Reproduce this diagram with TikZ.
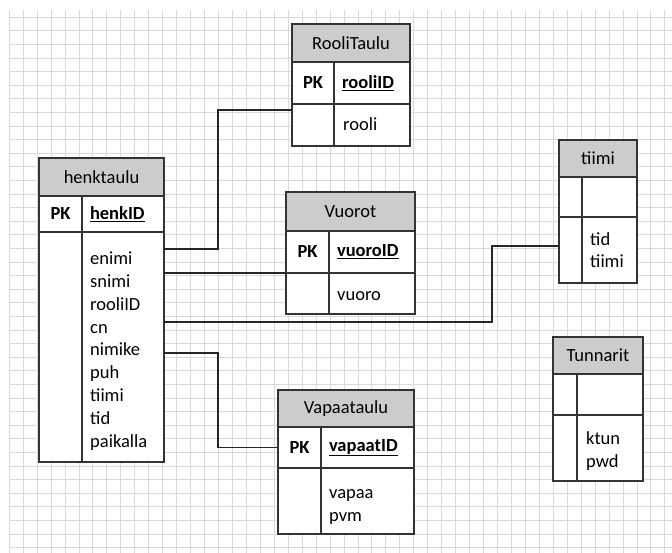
\documentclass[tikz,border=0pt]{standalone}
\usepackage{fontspec}
\setmainfont{Carlito}
\usepackage{tikz}
\usetikzlibrary{positioning}

\tikzset{
  cell/.style={draw=black!80, line width=1.1pt, fill=white, inner sep=0pt, outer sep=0pt, anchor=north west},
  head/.style={cell, fill=black!20},
  txt/.style={cell, align=left, inner xsep=8pt},
  fields/.style={align=left, inner sep=0pt, anchor=base west}, % base = last line
  link/.style={draw=black!85, line width=1.1pt},
  gridline/.style={draw=black!15, line width=0.5pt}
}

\begin{document}
\begin{tikzpicture}[x=1pt, y=-1pt, font=\fontsize{18.5}{22.8}\selectfont]

\useasboundingbox (0,0) rectangle (672,553);

% background grid
\foreach \i in {0,...,47}
  \draw[gridline] ({9+13.95*\i},10) -- ({9+13.95*\i},553);
\foreach \j in {0,...,39}
  \draw[gridline] (9,{17+13.6*\j}) -- (672,{17+13.6*\j});

% henktaulu
\node[head, minimum width=125pt, minimum height=38pt] (henk-head) at (39,158) {henktaulu};
\node[cell, minimum width=43pt, minimum height=36pt] (henk-pk) at (henk-head.south west) {\textbf{PK}};
\node[txt, text width=66pt, minimum height=36pt] (henk-id) at (henk-pk.north east) {\underline{\textbf{henkID}}};
\node[cell, minimum width=43pt, minimum height=230pt] (henk-kcol) at (henk-pk.south west) {};
\node[cell, minimum width=82pt, minimum height=230pt] (henk-body) at (henk-kcol.north east) {};
\node[fields] (henk-fields) at ([xshift=8pt, yshift=-215pt]henk-body.north west)
  {enimi\\snimi\\rooliID\\cn\\nimike\\puh\\tiimi\\tid\\paikalla};

% RooliTaulu
\node[head, minimum width=118pt, minimum height=38pt] (rooli-head) at (292,24) {RooliTaulu};
\node[cell, minimum width=42pt, minimum height=42pt] (rooli-pk) at (rooli-head.south west) {\textbf{PK}};
\node[txt, text width=60pt, minimum height=42pt] (rooli-id) at (rooli-pk.north east) {\underline{\textbf{rooliID}}};
\node[cell, minimum width=42pt, minimum height=42pt] (rooli-kcol) at (rooli-pk.south west) {};
\node[cell, minimum width=76pt, minimum height=42pt] (rooli-body) at (rooli-kcol.north east) {};
\node[fields] (rooli-fields) at ([xshift=9pt, yshift=-27pt]rooli-body.north west) {rooli};

% Vuorot
\node[head, minimum width=129pt, minimum height=39pt] (vuoro-head) at (286,192) {Vuorot};
\node[cell, minimum width=43pt, minimum height=42pt] (vuoro-pk) at (vuoro-head.south west) {\textbf{PK}};
\node[txt, text width=70pt, minimum height=42pt] (vuoro-id) at (vuoro-pk.north east) {\underline{\textbf{vuoroID}}};
\node[cell, minimum width=43pt, minimum height=41pt] (vuoro-kcol) at (vuoro-pk.south west) {};
\node[cell, minimum width=86pt, minimum height=41pt] (vuoro-body) at (vuoro-kcol.north east) {};
\node[fields] (vuoro-fields) at ([xshift=8pt, yshift=-28pt]vuoro-body.north west) {vuoro};

% Vapaataulu
\node[head, minimum width=136pt, minimum height=37pt] (vapaa-head) at (278,390) {Vapaataulu};
\node[cell, minimum width=43pt, minimum height=41pt] (vapaa-pk) at (vapaa-head.south west) {\textbf{PK}};
\node[txt, text width=77pt, minimum height=41pt] (vapaa-id) at (vapaa-pk.north east) {\underline{\textbf{vapaatID}}};
\node[cell, minimum width=43pt, minimum height=66pt] (vapaa-kcol) at (vapaa-pk.south west) {};
\node[cell, minimum width=93pt, minimum height=66pt] (vapaa-body) at (vapaa-kcol.north east) {};
\node[fields] (vapaa-fields) at ([xshift=8pt, yshift=-53pt]vapaa-body.north west) {vapaa\\pvm};

% tiimi
\node[head, minimum width=78pt, minimum height=37pt] (tiimi-head) at (559,140) {tiimi};
\node[cell, minimum width=23pt, minimum height=40pt] (tiimi-pk) at (tiimi-head.south west) {};
\node[cell, minimum width=55pt, minimum height=40pt] (tiimi-id) at (tiimi-pk.north east) {};
\node[cell, minimum width=23pt, minimum height=66pt] (tiimi-kcol) at (tiimi-pk.south west) {};
\node[cell, minimum width=55pt, minimum height=66pt] (tiimi-body) at (tiimi-kcol.north east) {};
\node[fields] (tiimi-fields) at ([xshift=8pt, yshift=-51pt]tiimi-body.north west) {tid\\tiimi};

% Tunnarit
\node[head, minimum width=90pt, minimum height=37pt] (tunn-head) at (553,337) {Tunnarit};
\node[cell, minimum width=24pt, minimum height=41pt] (tunn-pk) at (tunn-head.south west) {};
\node[cell, minimum width=66pt, minimum height=41pt] (tunn-id) at (tunn-pk.north east) {};
\node[cell, minimum width=24pt, minimum height=66pt] (tunn-kcol) at (tunn-pk.south west) {};
\node[cell, minimum width=66pt, minimum height=66pt] (tunn-body) at (tunn-kcol.north east) {};
\node[fields] (tunn-fields) at ([xshift=9pt, yshift=-52pt]tunn-body.north west) {ktun\\pwd};

% connector ends
\coordinate (h-rooli) at ([yshift=-17pt]henk-body.north east);
\coordinate (h-vuoro) at ([yshift=-41pt]henk-body.north east);
\coordinate (h-tiimi) at ([yshift=-90pt]henk-body.north east);
\coordinate (h-vapaa) at ([yshift=-121pt]henk-body.north east);
\coordinate (rooli-in) at ([yshift=-6pt]rooli-kcol.north west);
\coordinate (tiimi-in) at ([yshift=-29pt]tiimi-kcol.north west);

% connectors
\draw[link] (h-rooli) -- ++(54,0) |- (rooli-in);
\draw[link] (h-vuoro) -- (vuoro-pk.south west);
\draw[link] (h-tiimi) -- ++(328,0) |- (tiimi-in);
\draw[link] (h-vapaa) -- ++(54,0) |- (vapaa-pk.west);

\end{tikzpicture}
\end{document}
